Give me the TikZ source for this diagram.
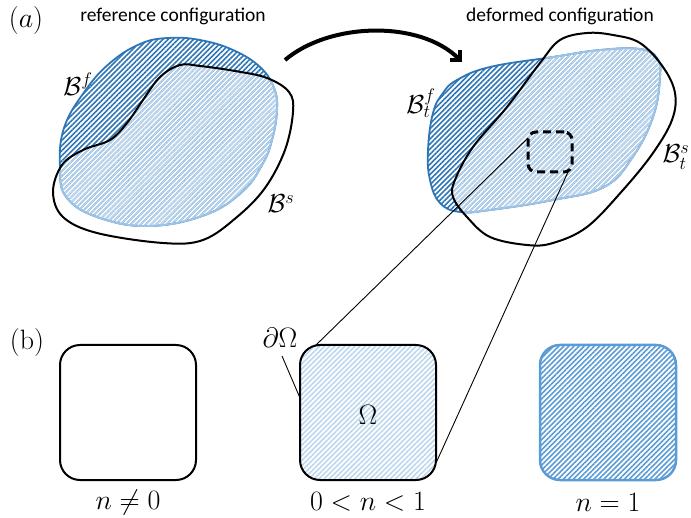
\RequirePackage{fix-cm}
\documentclass[tikz,border=0pt]{standalone}
\usepackage{fontspec}
\newfontfamily\labelfont{Carlito}
\usetikzlibrary{patterns.meta,arrows.meta}
\definecolor{darkblue}{HTML}{2E75B6}
\definecolor{lightblue}{HTML}{BDD7EE}
\definecolor{lightedge}{HTML}{9DC3E6}
\definecolor{midblue}{HTML}{5B9BD5}
\tikzset{
  darkhatch/.style={pattern={Lines[angle=45,distance=3.6pt,line width=1.6pt]},pattern color=darkblue},
  lighthatch/.style={pattern={Lines[angle=45,distance=3.6pt,line width=1.6pt]},pattern color=lightblue},
  midhatch/.style={pattern={Lines[angle=45,distance=3.6pt,line width=1.6pt]},pattern color=midblue},
  toptext/.style={font=\labelfont\fontsize{19.5}{22}\selectfont},
  mathlabel/.style={font=\fontsize{28}{32}\selectfont,inner sep=1pt},
  blabel/.style={font=\fontsize{26}{30}\selectfont,inner sep=1pt},
  boxshape/.style={rounded corners=20pt,minimum width=136pt,minimum height=135pt,inner sep=0pt},
  solidedge/.style={line width=2pt,draw=black},
  zoomline/.style={line width=0.9pt,draw=black},
}
\def\refblue{plot[smooth cycle,tension=0.7] coordinates{(60,168) (64,128) (85,91) (110,63) (140,44) (168,38) (200,40) (233,50) (260,67) (274,88) (277,110) (272,140) (262,165) (242,192) (205,215) (150,226) (100,218) (67,198)}}
\def\refblack{plot[smooth cycle,tension=0.6] coordinates{(62,165) (83,150) (110,140) (127,123) (143,100) (160,77) (180,65) (200,66) (235,71) (267,78) (289,92) (293,112) (285,150) (265,188) (237,217) (203,240) (163,243) (97,233) (63,217) (53,192)}}
\def\defblue{plot[smooth cycle,tension=0.7] coordinates{(430,180) (428,150) (433,113) (443,93) (457,80) (490,67) (553,57) (600,50) (640,49) (657,58) (660,77) (653,117) (632,158) (604,187) (553,200) (490,210) (460,212) (440,203)}}
\def\defblack{plot[smooth cycle,tension=0.6] coordinates{(587,33) (613,35) (640,43) (663,67) (675,93) (672,120) (653,153) (623,190) (587,227) (553,243) (527,245) (490,237) (467,217) (453,197) (455,180) (473,147) (507,107) (540,63) (560,40)}}
\begin{document}
\begin{tikzpicture}[x=1pt,y=-1pt]
\useasboundingbox (0,0) rectangle (691,518);
% reference configuration
\path[fill=white,darkhatch] \refblue;
\draw[darkblue,line width=1.8pt] \refblue;
\begin{scope}
  \clip \refblack;
  \path[fill=white,lighthatch] \refblue;
  \draw[lightedge,line width=1.8pt] \refblue;
\end{scope}
\draw[line width=2pt,black] \refblack;
% deformed configuration
\path[fill=white,darkhatch] \defblue;
\draw[darkblue,line width=1.8pt] \defblue;
\begin{scope}
  \clip \defblack;
  \path[fill=white,lighthatch] \defblue;
  \draw[lightedge,line width=1.8pt] \defblue;
\end{scope}
\draw[line width=2pt,black] \defblack;
% arrow
\coordinate (arS) at (285,60);
\coordinate (arE) at (462,62);
\draw[line width=4pt,-{Straight Barb[length=7pt,width=14pt]}] (arS) .. controls (330,22) and (420,20) .. (arE);
% dashed zoom box
\node[draw,line width=3pt,dash pattern=on 8pt off 5pt,rounded corners=8pt,minimum width=44pt,minimum height=40pt,inner sep=0pt] (zoom) at (550,152) {};
% boxes
\node[boxshape,solidedge] (b1) at (128,412.5) {};
\node[boxshape,fill=white,lighthatch,solidedge] (b2) at (368,412.5) {};
\node[boxshape,fill=white,midhatch,draw=midblue,line width=2.5pt] (b3) at (608,412.5) {};
% zoom lines
\coordinate (zA) at (528,138);
\coordinate (zB) at (568,172);
\coordinate (bA) at (315,346);
\coordinate (bB) at (436,463);
\draw[zoomline] (zA) -- (bA);
\draw[zoomline] (zB) -- (bB);
% labels
\node[mathlabel] (la) at (26,21) {$(a)$};
\node[toptext] (tref) at (173,16) {reference configuration};
\node[toptext] (tdef) at (560,16) {deformed configuration};
\node[blabel] (Bf) at (78,84) {$\mathcal{B}^f$};
\node[blabel] (Bs) at (281,204) {$\mathcal{B}^s$};
\node[blabel] (Btf) at (421,103) {$\mathcal{B}_t^f$};
\node[blabel] (Bts) at (676,157) {$\mathcal{B}_t^s$};
\node[mathlabel] (lb) at (27,343) {(b)};
\node[mathlabel] (dO) at (280,338) {$\partial\Omega$};
\coordinate (dOs) at (282,356);
\coordinate (dOt) at (300,398);
\draw[zoomline] (dOs) -- (dOt);
\node[mathlabel] (Om) at (368,415) {$\Omega$};
\node[mathlabel] (n1) at (128,502) {$n\neq0$};
\node[mathlabel] (n2) at (368,502) {$0<n<1$};
\node[mathlabel] (n3) at (608,502) {$n=1$};
\end{tikzpicture}
\end{document}
